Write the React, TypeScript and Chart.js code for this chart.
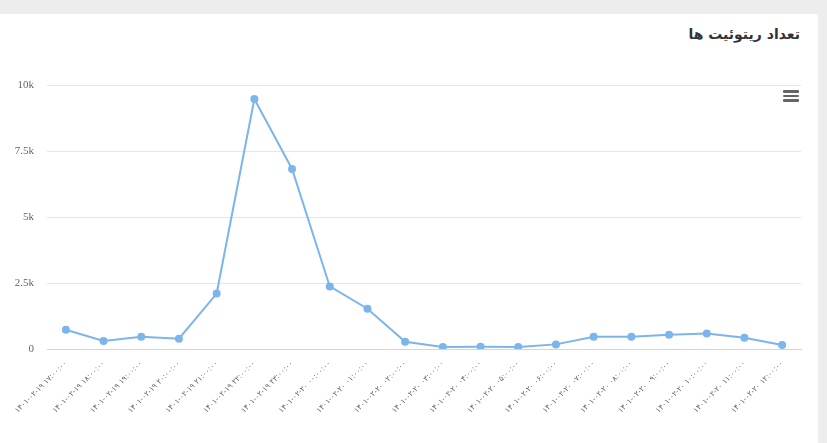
import React, { useEffect, useRef } from "react";
import { Chart, registerables } from "chart.js";

Chart.register(...registerables);

const categories = [
  "۱۴۰۱-۰۲-۱۹ ۱۷:۰۰:۰۰",
  "۱۴۰۱-۰۲-۱۹ ۱۸:۰۰:۰۰",
  "۱۴۰۱-۰۲-۱۹ ۱۹:۰۰:۰۰",
  "۱۴۰۱-۰۲-۱۹ ۲۰:۰۰:۰۰",
  "۱۴۰۱-۰۲-۱۹ ۲۱:۰۰:۰۰",
  "۱۴۰۱-۰۲-۱۹ ۲۲:۰۰:۰۰",
  "۱۴۰۱-۰۲-۱۹ ۲۳:۰۰:۰۰",
  "۱۴۰۱-۰۲-۲۰ ۰۰:۰۰:۰۰",
  "۱۴۰۱-۰۲-۲۰ ۰۱:۰۰:۰۰",
  "۱۴۰۱-۰۲-۲۰ ۰۲:۰۰:۰۰",
  "۱۴۰۱-۰۲-۲۰ ۰۳:۰۰:۰۰",
  "۱۴۰۱-۰۲-۲۰ ۰۴:۰۰:۰۰",
  "۱۴۰۱-۰۲-۲۰ ۰۵:۰۰:۰۰",
  "۱۴۰۱-۰۲-۲۰ ۰۶:۰۰:۰۰",
  "۱۴۰۱-۰۲-۲۰ ۰۷:۰۰:۰۰",
  "۱۴۰۱-۰۲-۲۰ ۰۸:۰۰:۰۰",
  "۱۴۰۱-۰۲-۲۰ ۰۹:۰۰:۰۰",
  "۱۴۰۱-۰۲-۲۰ ۱۰:۰۰:۰۰",
  "۱۴۰۱-۰۲-۲۰ ۱۱:۰۰:۰۰",
  "۱۴۰۱-۰۲-۲۰ ۱۲:۰۰:۰۰",
];

const retweets = [730, 300, 465, 390, 2100, 9470, 6820, 2370, 1525, 275, 75, 87, 75, 175, 465, 460, 540, 590, 427, 150];

const yTicks = [0, 2500, 5000, 7500, 10000];
const yTickLabels = ["0", "2.5k", "5k", "7.5k", "10k"];

const chartTitle = "تعداد ریتوئیت ها";

export default function App() {
  const ref = useRef<HTMLCanvasElement>(null);

  useEffect(() => {
    const canvas = ref.current;
    if (!canvas) return;
    const chart = new Chart(canvas, {
      type: "line",
      data: {
        labels: categories,
        datasets: [
          {
            data: retweets,
            borderColor: "#7cb5ec",
            backgroundColor: "#7cb5ec",
            pointBackgroundColor: "#7cb5ec",
            pointBorderColor: "#7cb5ec",
            borderWidth: 2,
            pointRadius: 4,
            pointBorderWidth: 0,
            tension: 0,
          },
        ],
      },
      options: {
        responsive: false,
        animation: false,
        layout: { padding: { top: 85, right: 26, left: 0, bottom: 0 } },
        plugins: { legend: { display: false }, tooltip: { enabled: false }, title: { display: false } },
        scales: {
          x: {
            offset: true,
            grid: { display: false, drawTicks: false },
            border: { color: "#ccd6eb", width: 1 },
            ticks: {
              minRotation: 45,
              maxRotation: 45,
              autoSkip: false,
              color: "#666666",
              padding: 10,
              font: { family: "DejaVu Sans", size: 7.6 },
              callback: (_v: any, i: number) => "\u202D" + categories[i] + "\u202C",
            },
            afterFit: (s: any) => {
              s.height = 94;
            },
          },
          y: {
            min: 0,
            max: 10000,
            afterBuildTicks: (s: any) => {
              s.ticks = yTicks.map((v) => ({ value: v }));
            },
            grid: { color: "#e6e6e6", drawTicks: false, lineWidth: 1 },
            border: { display: false },
            ticks: {
              padding: 13,
              color: "#666666",
              font: { family: "Liberation Serif", size: 11 },
              callback: (v: any) => {
                const i = yTicks.indexOf(Number(v));
                return i >= 0 ? yTickLabels[i] : "";
              },
            },
            afterFit: (s: any) => {
              s.width = 47;
            },
          },
        },
      },
    });
    return () => chart.destroy();
  }, []);

  return (
    <div style={{ position: "fixed", left: 0, top: 0, width: 827, height: 443, background: "#ededed", overflow: "hidden" }}>
      <div style={{ position: "absolute", left: 0, top: 14, width: 818, height: 440, background: "#ffffff", borderTopRightRadius: 3 }} />
      <div
        dir="rtl"
        style={{
          position: "absolute",
          right: 27,
          top: 24,
          fontFamily: "DejaVu Sans",
          fontWeight: "bold",
          fontSize: 14,
          lineHeight: "20px",
          color: "#333333",
          whiteSpace: "nowrap",
        }}
      >
        {chartTitle}
      </div>
      <canvas ref={ref} width={827} height={443} style={{ position: "absolute", left: 0, top: 0 }} />
      <div style={{ position: "absolute", left: 783, top: 90, width: 16, height: 12 }}>
        {[0, 4.5, 9].map((t) => (
          <div key={t} style={{ position: "absolute", left: 0, top: t, width: 16, height: 2.5, borderRadius: 1, background: "#666666" }} />
        ))}
      </div>
    </div>
  );
}
